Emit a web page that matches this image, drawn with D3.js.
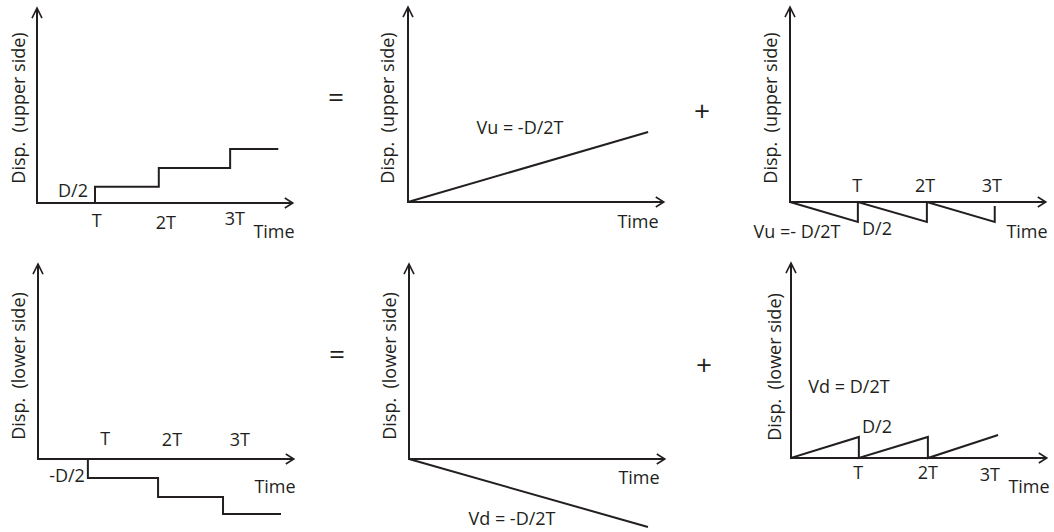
<!DOCTYPE html>
<html>
<head>
<meta charset="utf-8">
<script src="https://cdn.jsdelivr.net/npm/d3@7"></script>
<style>
  html, body { margin: 0; padding: 0; background: #fff; }
  svg text { font-family: "Open Sans", "Noto Sans", sans-serif; fill: #231f20; white-space: pre; }
</style>
</head>
<body>
<svg id="chart" width="1054" height="532"></svg>
<script>
// ---- Data (time in units of T, displacement in units of D/2) ----
const tickLabels = ["T", "2T", "3T"];
const axisTimeMax = 4.41;
const axisDispMax = 10.83;

const upperStepTicks = [1.03, 2.22, 3.41];
const upperStep = [[0, 0], [1.0, 0.9], [2.1, 1.95], [3.33, 3.0], [4.16, 3.0]];

const upperRamp = [[0, 0], [4.14, 3.89]];

const upperSawTicks = [1.16, 2.33, 3.48];
const upperSaw = [[0, 0], [1.17, -1.11], [1.17, 0], [2.36, -1.11], [2.36, 0], [3.53, -1.11], [3.53, -0.22]];

const lowerStepTicks = [1.16, 2.31, 3.48];
const lowerStep = [[0, 0], [0.86, -1.06], [2.07, -2.11], [3.19, -3.06], [4.19, -3.06]];

const lowerRamp = [[0, 0], [4.12, -3.78]];

const lowerSawTicks = [1.16, 2.36, 3.43];
const lowerSaw = [[0, 1.11], [0, 0], [1.17, 1.17], [1.17, 0], [2.36, 1.17], [2.36, 0], [3.57, 1.28]];

// ---- Layout ----
const ink = "#231f20";
const fs = 18;
const svg = d3.select("#chart");

const panels = [
  { ox: 37, oy: 203, yLabel: "Disp.  (upper side)", yLabX: 25, yLabY: 108,
    series: upperStep, curve: d3.curveStepAfter, ticks: upperStepTicks, tickY: [227, 229, 225],
    notes: [{ t: "D/2", x: 73, y: 197 }, { t: "Time", x: 274, y: 238 }] },
  { ox: 408, oy: 202, yLabel: "Disp.  (upper side)", yLabX: 394, yLabY: 108,
    series: upperRamp, curve: d3.curveLinear, ticks: [], tickY: [],
    notes: [{ t: "Vu = -D/2T", x: 520, y: 134 }, { t: "Time", x: 638, y: 228 }] },
  { ox: 790, oy: 202, yLabel: "Disp.  (upper side)", yLabX: 777, yLabY: 108,
    series: upperSaw, curve: d3.curveLinear, ticks: upperSawTicks, tickY: [192, 192, 192],
    notes: [{ t: "Vu =- D/2T", x: 797, y: 238 }, { t: "D/2", x: 877, y: 235 }, { t: "Time", x: 1027, y: 238 }] },
  { ox: 38, oy: 459, yLabel: "Disp.  (lower side)", yLabX: 25, yLabY: 366,
    series: lowerStep, curve: d3.curveStepAfter, ticks: lowerStepTicks, tickY: [445, 446, 446],
    notes: [{ t: "-D/2", x: 67, y: 482 }, { t: "Time", x: 275, y: 493 }] },
  { ox: 409, oy: 459, yLabel: "Disp.  (lower side)", yLabX: 396, yLabY: 366,
    series: lowerRamp, curve: d3.curveLinear, ticks: [], tickY: [],
    notes: [{ t: "Vd = -D/2T", x: 512, y: 525 }, { t: "Time", x: 639, y: 484 }] },
  { ox: 791, oy: 458, yLabel: "Disp.  (lower side)", yLabX: 781, yLabY: 367,
    series: lowerSaw, curve: d3.curveLinear, ticks: lowerSawTicks, tickY: [479, 479, 481],
    notes: [{ t: "Vd = D/2T", x: 849, y: 393 }, { t: "D/2", x: 877, y: 433 }, { t: "Time", x: 1029, y: 493 }] }
];

const pxPerT = 58, pxPerD = 18;

panels.forEach(p => {
  const x = d3.scaleLinear().domain([0, axisTimeMax]).range([p.ox, p.ox + axisTimeMax * pxPerT]);
  const y = d3.scaleLinear().domain([0, axisDispMax]).range([p.oy, p.oy - axisDispMax * pxPerD]);
  const g = svg.append("g");
  const line = d3.line().x(d => x(d[0])).y(d => y(d[1]));

  // axes
  g.append("path").attr("d", line([[0, axisDispMax], [0, 0], [axisTimeMax, 0]]))
    .attr("fill", "none").attr("stroke", ink).attr("stroke-width", 2);
  const tx = x(axisTimeMax), ty = y(0);
  g.append("path").attr("d", `M${tx - 8},${ty - 5}L${tx},${ty}L${tx - 8},${ty + 5}`)
    .attr("fill", "none").attr("stroke", ink).attr("stroke-width", 1.6);
  const ax = x(0), ay = y(axisDispMax);
  g.append("path").attr("d", `M${ax - 5},${ay + 10}L${ax},${ay}L${ax + 5},${ay + 10}`)
    .attr("fill", "none").attr("stroke", ink).attr("stroke-width", 1.6);

  // series
  g.append("path").attr("d", line.curve(p.curve)(p.series))
    .attr("fill", "none").attr("stroke", ink).attr("stroke-width", 2);

  // tick labels
  p.ticks.forEach((v, i) => {
    g.append("text").attr("x", x(v)).attr("y", p.tickY[i])
      .attr("text-anchor", "middle").attr("font-size", fs).text(tickLabels[i]);
  });

  // notes
  p.notes.forEach(n => {
    g.append("text").attr("x", n.x).attr("y", n.y)
      .attr("text-anchor", "middle").attr("font-size", fs).text(n.t);
  });

  // y label
  g.append("text").attr("transform", `translate(${p.yLabX},${p.yLabY}) rotate(-90)`)
    .attr("text-anchor", "middle").attr("font-size", fs).text(p.yLabel);
});

// operators
const ops = [{ t: "=", x: 336, y: 107 }, { t: "+", x: 702, y: 121 },
             { t: "=", x: 337, y: 364 }, { t: "+", x: 704, y: 375 }];
ops.forEach(o => {
  svg.append("text").attr("x", o.x).attr("y", o.y).attr("text-anchor", "middle")
    .attr("font-size", 28).text(o.t);
});
</script>
</body>
</html>
